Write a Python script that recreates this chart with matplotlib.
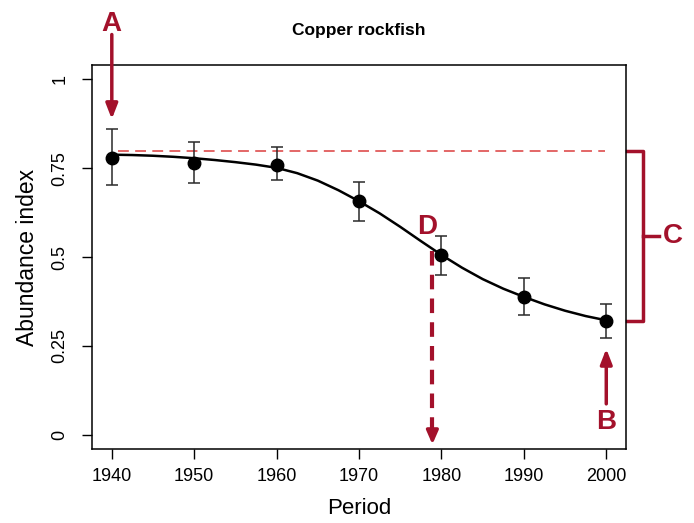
import matplotlib
matplotlib.use("Agg")
import matplotlib.pyplot as plt

plt.rcParams['font.family'] = ['Liberation Sans', 'DejaVu Sans']

# Data
periods = [1940, 1950, 1960, 1970, 1980, 1990, 2000]
abundance = [0.779, 0.764, 0.760, 0.657, 0.506, 0.388, 0.320]
err_low = [0.702, 0.708, 0.716, 0.601, 0.449, 0.337, 0.272]
err_high = [0.860, 0.823, 0.809, 0.710, 0.559, 0.441, 0.368]

curve_x = [1940, 1942.5, 1945, 1947.5, 1950, 1952.5, 1955, 1957.5, 1960, 1962.5,
           1965, 1967.5, 1970, 1972.5, 1975, 1977.5, 1980, 1982.5, 1985, 1987.5,
           1990, 1992.5, 1995, 1997.5, 2000]
curve_y = [0.788, 0.787, 0.785, 0.782, 0.778, 0.773, 0.767, 0.760, 0.751, 0.736,
           0.715, 0.688, 0.657, 0.623, 0.585, 0.545, 0.506, 0.470, 0.438, 0.411,
           0.388, 0.367, 0.349, 0.334, 0.322]

baseline = 0.798
d_period = 1978.9

xticks = [1940, 1950, 1960, 1970, 1980, 1990, 2000]
yticks = [0, 0.25, 0.5, 0.75, 1]
ytick_labels = ['0', '0.25', '0.5', '0.75', '1']

dark_red = '#a3112b'
light_red = '#e05a5a'

fig = plt.figure(figsize=(6.94, 5.23), dpi=100)
ax = fig.add_axes([0.1326, 0.1415, 0.7695, 0.734])

ax.plot([periods[0] + 0.8, periods[-1] - 0.2], [baseline, baseline],
        color=light_red, lw=1.3, dashes=(6, 3.5))
ax.plot(curve_x, curve_y, color='black', lw=1.8, zorder=3, solid_joinstyle='round')
yerr = [[a - l for a, l in zip(abundance, err_low)],
        [h - a for a, h in zip(abundance, err_high)]]
ax.errorbar(periods, abundance, yerr=yerr, fmt='o', color='black', ms=9,
            ecolor='#2a2a2a', elinewidth=1.1, capsize=4, capthick=1.1, zorder=4)

ax.set_xlim(1937.6, 2002.4)
ax.set_ylim(-0.04, 1.04)
ax.set_xticks(xticks)
ax.set_yticks(yticks)
ax.set_yticklabels(ytick_labels, rotation=90, va='center')
ax.tick_params(axis='both', direction='out', length=7, width=1, labelsize=13, pad=7)
ax.tick_params(axis='y', pad=10)
for s in ax.spines.values():
    s.set_linewidth(1.1)

ax.set_xlabel('Period', fontsize=16, labelpad=9)
ax.set_ylabel('Abundance index', fontsize=16.5, labelpad=9)
ax.set_title('Copper rockfish', fontsize=12.5, fontweight='bold', pad=22)

# Annotations
# A arrow
ax.annotate('', xy=(periods[0], 0.888), xytext=(periods[0], 1.126),
            arrowprops=dict(arrowstyle='-|>,head_length=0.9,head_width=0.35',
                            color=dark_red, lw=2.5, shrinkA=0, shrinkB=0),
            annotation_clip=False)
ax.text(periods[0], 1.155, 'A', color=dark_red, fontsize=20, fontweight='bold',
        ha='center', va='center', clip_on=False)

# B arrow
ax.annotate('', xy=(periods[-1], 0.242), xytext=(periods[-1], 0.087),
            arrowprops=dict(arrowstyle='-|>,head_length=0.9,head_width=0.35',
                            color=dark_red, lw=2.5, shrinkA=0, shrinkB=0),
            annotation_clip=False)
ax.text(periods[-1], 0.035, 'B', color=dark_red, fontsize=20, fontweight='bold',
        ha='center', va='center')

# D dashed arrow
ax.plot([d_period, d_period], [0.517, 0.0], color=dark_red, lw=3, dashes=(3.5, 2.2))
ax.annotate('', xy=(d_period, -0.027), xytext=(d_period, 0.01),
            arrowprops=dict(arrowstyle='-|>,head_length=0.8,head_width=0.35',
                            color=dark_red, lw=2.5, shrinkA=0, shrinkB=0),
            annotation_clip=False)
ax.text(d_period - 0.6, 0.584, 'D', color=dark_red, fontsize=20, fontweight='bold',
        ha='center', va='center')

# C bracket
bx0, bx1, bx2 = 2002.5, 2004.4, 2006.4
ax.plot([bx0, bx1, bx1, bx0], [baseline, baseline, abundance[-1], abundance[-1]],
        color=dark_red, lw=2.5, clip_on=False, solid_joinstyle='round')
cmid = (baseline + abundance[-1]) / 2
ax.plot([bx1, bx2], [cmid, cmid], color=dark_red, lw=2.5, clip_on=False)
ax.text(2008.1, cmid, 'C', color=dark_red, fontsize=20, fontweight='bold',
        ha='center', va='center', clip_on=False)

fig.savefig('out.png', dpi=100)
